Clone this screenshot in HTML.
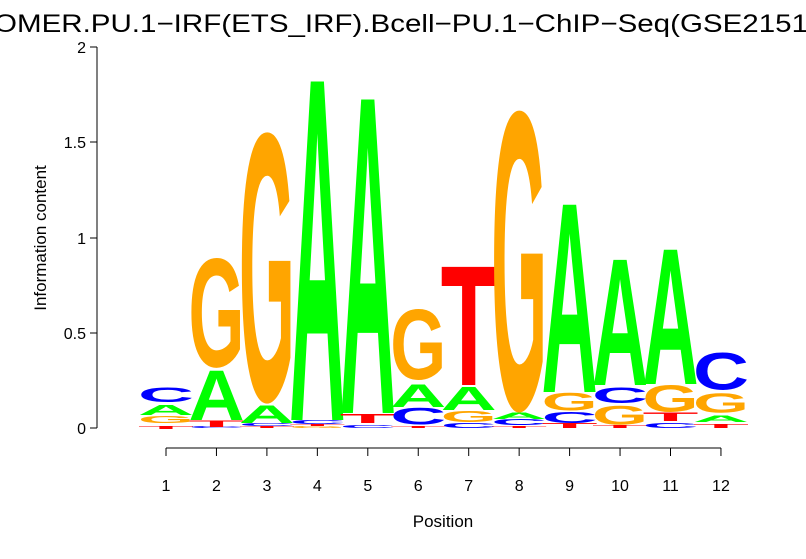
<!DOCTYPE html>
<html><head><meta charset="utf-8"><style>html,body{margin:0;padding:0;background:#fff;}svg{display:block;}</style></head>
<body>
<svg width="806" height="559" viewBox="0 0 806 559" xmlns="http://www.w3.org/2000/svg" font-family="Liberation Sans, sans-serif">
<rect width="806" height="559" fill="#fff"/>
<text x="-6" y="32" font-size="25" textLength="814" lengthAdjust="spacingAndGlyphs">OMER.PU.1−IRF(ETS_IRF).Bcell−PU.1−ChIP−Seq(GSE2151</text>
<g stroke="#000" stroke-width="1" fill="none">
<line x1="97" y1="47" x2="97" y2="428"/>
<line x1="90" y1="428" x2="97" y2="428"/>
<line x1="90" y1="333" x2="97" y2="333"/>
<line x1="90" y1="238" x2="97" y2="238"/>
<line x1="90" y1="142" x2="97" y2="142"/>
<line x1="90" y1="47" x2="97" y2="47"/>
<line x1="166" y1="448" x2="721" y2="448"/>
</g>
<g font-size="16" text-anchor="end">
<text x="86" y="434">0</text>
<text x="86" y="339">0.5</text>
<text x="86" y="244">1</text>
<text x="86" y="148">1.5</text>
<text x="86" y="53">2</text>
</g>
<g font-size="17" text-anchor="middle">
<text transform="translate(46,238) rotate(-90)">Information content</text>
<text x="443" y="527">Position</text>
</g>
<g id="xt" font-size="16" text-anchor="middle"></g>
<g id="logo"></g>
<script>
var NS="http://www.w3.org/2000/svg";
var col={A:"#00ff00",C:"#0000ff",G:"#ffa500",T:"#ff0000"};
var st=[
[["T",429,426],["G",423,416],["A",415,405],["C",402,387]],
[["C",428,426],["T",427,421],["A",420,371],["G",368,257]],
[["T",428,426],["C",426,423],["A",423,406],["G",404,130]],
[["G",428,426],["T",426,424],["C",424,420],["A",420,82]],
[["C",428,425],["T",423,414],["A",413,100]],
[["T",428,426],["C",425,408],["A",407,385],["G",380,308]],
[["C",428,423],["G",422,411],["A",410,387],["T",385,267]],
[["T",428,426],["C",425,419],["A",419,413],["G",413,108]],
[["T",428,423],["C",423,412],["G",411,393],["A",392,205]],
[["T",428,425],["G",425,406],["C",403,387],["A",385,260]],
[["C",428,423],["T",421,413],["G",412,385],["A",384,250]],
[["T",428,424],["A",422,416],["G",413,393],["C",390,352]]];
var lg=document.getElementById("logo"),xt=document.getElementById("xt");
var ax=document.querySelector("g[stroke]");
for(var i=0;i<12;i++){
 var cx=166+i*50.45;
 var l=document.createElementNS(NS,"line");l.setAttribute("x1",cx);l.setAttribute("x2",cx);l.setAttribute("y1",448);l.setAttribute("y2",456);ax.appendChild(l);
 var t=document.createElementNS(NS,"text");t.setAttribute("x",cx);t.setAttribute("y",491);t.textContent=i+1;xt.appendChild(t);
 st[i].forEach(function(s){
  var h=s[1]-s[2];if(h<=0)return;
  var round=(s[0]=="G"||s[0]=="C");
  var d=round?71.5:68.7;
  var e=document.createElementNS(NS,"text");
  e.setAttribute("x",0);e.setAttribute("y",0);e.setAttribute("font-size",100);e.setAttribute("font-weight","bold");
  e.setAttribute("fill",col[s[0]]);
  e.setAttribute("textLength",56);e.setAttribute("lengthAdjust","spacingAndGlyphs");
  var off=round?-h*0.015:0;
  e.setAttribute("transform","translate("+(cx-28)+","+(s[1]+off)+") scale(1,"+(h/d)+")");
  e.textContent=s[0];lg.appendChild(e);
 });
}
</script>
</svg>
</body></html>
